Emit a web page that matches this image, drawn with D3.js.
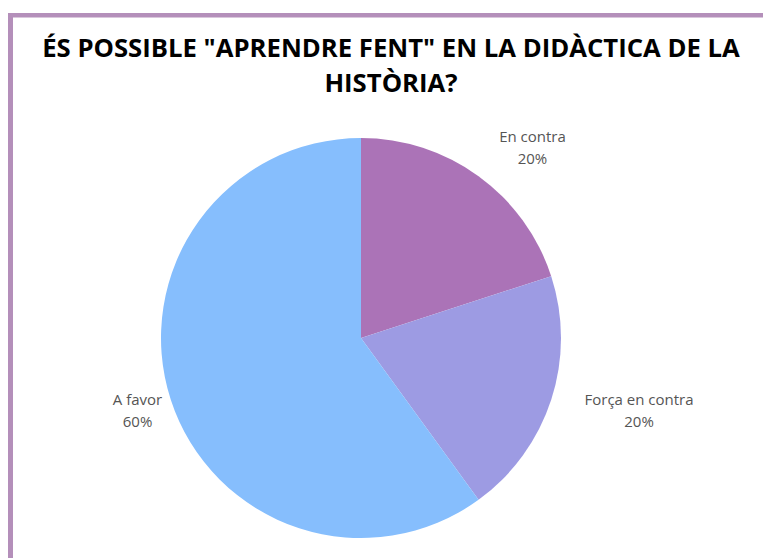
<!DOCTYPE html>
<html>
<head>
<meta charset="utf-8">
<script src="https://cdn.jsdelivr.net/npm/d3@7"></script>
<style>
  body { margin: 0; background: #fff; }
  svg { display: block; }
</style>
</head>
<body>
<svg id="chart" width="763" height="558"></svg>
<script>
// data
const categories = ['En contra', 'Força en contra', 'A favor'];
const values = [20, 20, 60];
const colors = ['#ab73b7', '#9d9be3', '#86befd'];
const titleLines = ['ÉS POSSIBLE "APRENDRE FENT" EN LA DIDÀCTICA DE LA', 'HISTÒRIA?'];

const W = 763, H = 558;
const cx = 361, cy = 338, R = 200;
const svg = d3.select('#chart');

// frame (top + left purple edges)
svg.append('rect').attr('x', 8).attr('y', 13).attr('width', W - 8).attr('height', 4.5).attr('fill', '#b48fba');
svg.append('rect').attr('x', 8).attr('y', 13).attr('width', 5).attr('height', H - 13).attr('fill', '#b48fba');

// title
svg.append('g').selectAll('text')
	.data(titleLines)
	.join('text')
	.attr('x', 391)
	.attr('y', (d, i) => 57 + i * 35)
	.attr('text-anchor', 'middle')
	.attr('font-family', '"Open Sans", sans-serif')
	.attr('font-weight', 700)
	.attr('font-size', 25.7)
	.attr('fill', '#000')
	.text(d => d);

// pie
const data = categories.map((c, i) => ({ name: c, value: values[i], color: colors[i] }));
const pie = d3.pie().value(d => d.value).sort(null);
const arc = d3.arc().innerRadius(0).outerRadius(R);
const labelArc = d3.arc().innerRadius(235).outerRadius(235);
const arcs = pie(data);

const g = svg.append('g').attr('transform', `translate(${cx},${cy})`);
g.selectAll('path')
	.data(arcs)
	.join('path')
	.attr('d', arc)
	.attr('fill', d => d.data.color);

// labels outside the slices
const total = d3.sum(values);
const lab = g.selectAll('g.lab')
	.data(arcs)
	.join('g')
	.attr('class', 'lab');

lab.each(function(d) {
	const el = d3.select(this);
	const [x, y] = labelArc.centroid(d);
	const lines = [d.data.name, Math.round(d.data.value / total * 100) + '%'];
	const t = el.selectAll('text')
		.data(lines)
		.join('text')
		.attr('y', (s, i) => y + (i - 0.5) * 22)
		.attr('dy', '0.35em')
		.attr('text-anchor', 'middle')
		.attr('font-family', '"Open Sans", sans-serif')
		.attr('font-size', 15)
		.attr('fill', '#555')
		.text(s => s);
	// right side: block starts at the anchor, left side: block centred on it
	const wMax = d3.max(t.nodes(), n => n.getComputedTextLength());
	const midA = (d.startAngle + d.endAngle) / 2;
	const bx = Math.sin(midA) > 0 ? x + wMax / 2 : x;
	t.attr('x', bx);
});
</script>
</body>
</html>
